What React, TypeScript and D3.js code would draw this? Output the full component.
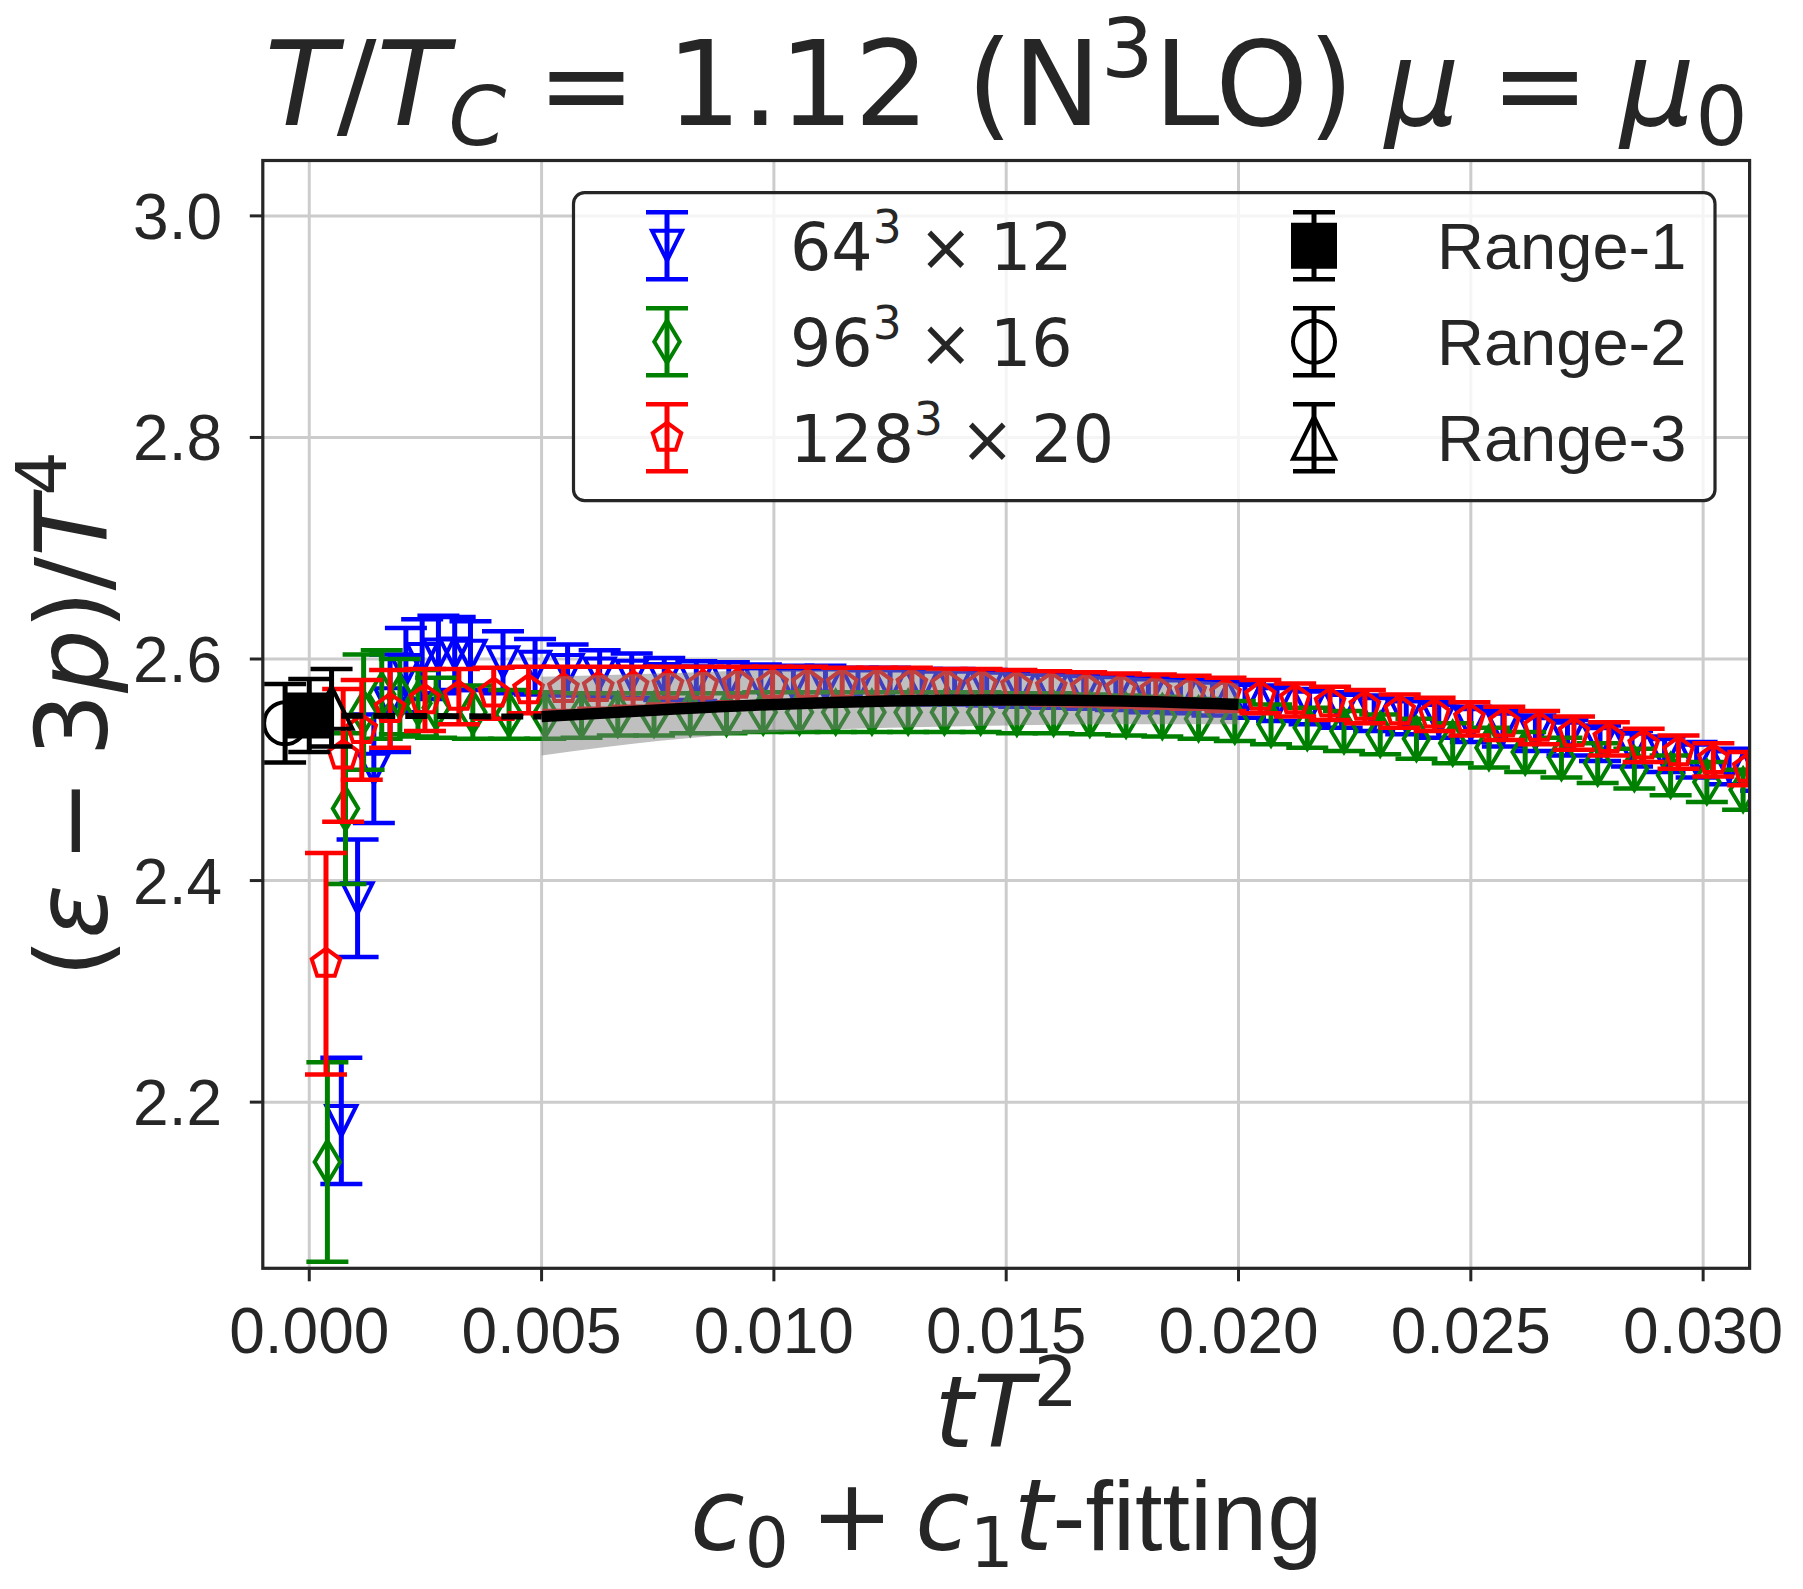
import React from 'react';
import * as d3 from 'd3';

const W = 1803, H = 1589;
const AX = { left: 262.8, right: 1749.6, top: 160.5, bottom: 1268.3 };
const xDomain: [number, number] = [-0.001, 0.031];
const yDomain: [number, number] = [2.05, 3.05];
const xTicks = [0, 0.005, 0.01, 0.015, 0.02, 0.025, 0.03];
const xTickLabels = ['0.000', '0.005', '0.010', '0.015', '0.020', '0.025', '0.030'];
const yTicks = [2.2, 2.4, 2.6, 2.8, 3.0];
const yTickLabels = ['2.2', '2.4', '2.6', '2.8', '3.0'];

// 64^3 x 12
const blueX = [0.00069, 0.00104, 0.00139, 0.00174, 0.00208, 0.00243, 0.00278, 0.00313, 0.00347, 0.00417, 0.00486, 0.00556, 0.00625, 0.00694, 0.00764, 0.00833, 0.00903, 0.00972, 0.01042, 0.01111, 0.01181, 0.0125, 0.01319, 0.01389, 0.01458, 0.01528, 0.01597, 0.01667, 0.01736, 0.01806, 0.01875, 0.01944, 0.02014, 0.02083, 0.02153, 0.02222, 0.02292, 0.02361, 0.02431, 0.025, 0.02569, 0.02639, 0.02708, 0.02778, 0.02847, 0.02917, 0.02986, 0.03056, 0.03125];
const blueY = [2.183, 2.384, 2.501, 2.56, 2.59, 2.6, 2.604, 2.605, 2.603, 2.597, 2.593, 2.59, 2.587, 2.585, 2.582, 2.58, 2.579, 2.578, 2.577, 2.577, 2.576, 2.576, 2.575, 2.575, 2.574, 2.573, 2.572, 2.571, 2.57, 2.568, 2.567, 2.565, 2.563, 2.56, 2.557, 2.554, 2.551, 2.548, 2.545, 2.541, 2.537, 2.533, 2.529, 2.524, 2.519, 2.514, 2.509, 2.503, 2.497];
const blueErr = [0.057, 0.053, 0.049, 0.044, 0.038, 0.036, 0.035, 0.033, 0.031, 0.028, 0.025, 0.023, 0.021, 0.02, 0.019, 0.018, 0.018, 0.017, 0.017, 0.017, 0.016, 0.016, 0.016, 0.016, 0.016, 0.016, 0.016, 0.016, 0.016, 0.016, 0.016, 0.016, 0.016, 0.016, 0.016, 0.016, 0.016, 0.016, 0.016, 0.016, 0.016, 0.016, 0.016, 0.016, 0.016, 0.016, 0.016, 0.016, 0.016];

// 96^3 x 16
const greenX = [0.00039, 0.00078, 0.00117, 0.00156, 0.00195, 0.00234, 0.00273, 0.00352, 0.0043, 0.00508, 0.00586, 0.00664, 0.00742, 0.0082, 0.00898, 0.00977, 0.01055, 0.01133, 0.01211, 0.01289, 0.01367, 0.01445, 0.01523, 0.01602, 0.0168, 0.01758, 0.01836, 0.01914, 0.01992, 0.0207, 0.02148, 0.02227, 0.02305, 0.02383, 0.02461, 0.02539, 0.02617, 0.02695, 0.02773, 0.02852, 0.0293, 0.03008, 0.03086];
const greenY = [2.146, 2.465, 2.552, 2.568, 2.566, 2.56, 2.556, 2.552, 2.55, 2.549, 2.549, 2.55, 2.55, 2.551, 2.551, 2.552, 2.552, 2.552, 2.552, 2.552, 2.552, 2.552, 2.551, 2.551, 2.55, 2.549, 2.548, 2.546, 2.544, 2.541, 2.538, 2.535, 2.532, 2.528, 2.524, 2.52, 2.516, 2.511, 2.506, 2.501, 2.495, 2.489, 2.482];
const greenErr = [0.09, 0.068, 0.052, 0.04, 0.034, 0.03, 0.027, 0.024, 0.022, 0.021, 0.02, 0.019, 0.019, 0.018, 0.018, 0.018, 0.018, 0.018, 0.018, 0.018, 0.018, 0.018, 0.018, 0.018, 0.018, 0.018, 0.018, 0.018, 0.018, 0.018, 0.018, 0.018, 0.018, 0.018, 0.018, 0.018, 0.018, 0.018, 0.018, 0.018, 0.018, 0.018, 0.018];

// 128^3 x 20
const redX = [0.00036, 0.00073, 0.00113, 0.00174, 0.00249, 0.00322, 0.00397, 0.00472, 0.00547, 0.00622, 0.00697, 0.00772, 0.00847, 0.00922, 0.00997, 0.01072, 0.01147, 0.01222, 0.01297, 0.01372, 0.01447, 0.01522, 0.01597, 0.01672, 0.01747, 0.01822, 0.01897, 0.01972, 0.02047, 0.02122, 0.02197, 0.02272, 0.02347, 0.02422, 0.02497, 0.02572, 0.02647, 0.02722, 0.02797, 0.02872, 0.02947, 0.03022, 0.03097];
const redY = [2.325, 2.513, 2.536, 2.555, 2.563, 2.566, 2.569, 2.572, 2.573, 2.574, 2.575, 2.576, 2.576, 2.577, 2.577, 2.577, 2.577, 2.577, 2.577, 2.576, 2.576, 2.575, 2.574, 2.573, 2.572, 2.571, 2.57, 2.568, 2.566, 2.563, 2.56, 2.557, 2.553, 2.55, 2.546, 2.542, 2.538, 2.533, 2.528, 2.522, 2.516, 2.509, 2.501];
const redErr = [0.1, 0.06, 0.045, 0.035, 0.028, 0.025, 0.023, 0.021, 0.02, 0.019, 0.018, 0.017, 0.017, 0.016, 0.016, 0.016, 0.015, 0.015, 0.015, 0.015, 0.015, 0.015, 0.015, 0.015, 0.015, 0.015, 0.015, 0.015, 0.015, 0.015, 0.015, 0.015, 0.015, 0.015, 0.015, 0.015, 0.015, 0.015, 0.015, 0.015, 0.015, 0.015, 0.015];

// continuum-extrapolated values (Range-1, Range-2, Range-3)
const rangeLabels = ['Range-1', 'Range-2', 'Range-3'];
const rangeX = [0.0, -0.00052, 0.00048];
const rangeY = [2.549, 2.542, 2.556];
const rangeErr = [0.033, 0.0355, 0.035];

// fit curve and band
const fitX = [0.005, 0.0075, 0.01, 0.0125, 0.015, 0.0175, 0.02];
const fitY = [2.548, 2.554, 2.559, 2.562, 2.563, 2.562, 2.559];
const fitLo = [2.513, 2.526, 2.534, 2.538, 2.54, 2.541, 2.541];
const fitHi = [2.584, 2.587, 2.59, 2.59, 2.588, 2.584, 2.578];
const dashX = [0.0, 0.005];
const dashY = [2.549, 2.548];

const TXT = '#262626';
const MS = 30;
const RMS = 42;
const ELW = 5;
const CLW = 4.5;
const MLW = 4;
const CAP = 21;

type Seg = { t: string; it?: boolean; sup?: boolean; sub?: boolean; font?: string; dx?: number };

function MathText(p: { x: number; y: number; fs: number; segs: Seg[]; anchor?: string; family?: string; transform?: string }) {
  const fs = p.fs;
  let cur = 0;
  const kids = p.segs.map((s, i) => {
    const target = s.sup ? -0.41 * fs : s.sub ? 0.17 * fs : 0;
    const dy = target - cur;
    cur = target;
    return (
      <tspan key={i} dy={dy} dx={s.dx ? s.dx * fs : undefined} fontStyle={s.it ? 'italic' : 'normal'} fontSize={s.sup || s.sub ? fs * 0.7 : fs} fontFamily={s.font}>
        {s.t}
      </tspan>
    );
  });
  return (
    <text x={p.x} y={p.y} textAnchor={(p.anchor as any) || 'middle'} fontFamily={p.family || 'DejaVu Sans'} fontSize={fs} fill={TXT} style={{ whiteSpace: 'pre' }} transform={p.transform}>
      {kids}
    </text>
  );
}

function markerPath(kind: string, s: number): string {
  const h = s / 2;
  if (kind === 'v') return `M0,${h}L${-h},${-h}L${h},${-h}Z`;
  if (kind === '^') return `M0,${-h}L${-h},${h}L${h},${h}Z`;
  if (kind === 'd') {
    const hw = 0.4243 * s, hh = 0.7071 * s;
    return `M0,${-hh}L${hw},0L0,${hh}L${-hw},0Z`;
  }
  if (kind === 'p') {
    const pts = d3.range(5).map((k) => {
      const a = (-90 + k * 72) * Math.PI / 180;
      return [h * Math.cos(a), h * Math.sin(a)];
    });
    return 'M' + pts.map((q) => q[0].toFixed(2) + ',' + q[1].toFixed(2)).join('L') + 'Z';
  }
  if (kind === 's') return `M${-h},${-h}L${h},${-h}L${h},${h}L${-h},${h}Z`;
  if (kind === 'o') return `M${h},0A${h},${h} 0 1,1 ${-h},0A${h},${h} 0 1,1 ${h},0Z`;
  return '';
}

function ErrPoint(p: { cx: number; cy: number; top: number; bot: number; color: string; kind: string; size: number; filled?: boolean }) {
  return (
    <g>
      <line x1={p.cx} x2={p.cx} y1={p.top} y2={p.bot} stroke={p.color} strokeWidth={ELW} />
      <line x1={p.cx - CAP} x2={p.cx + CAP} y1={p.top} y2={p.top} stroke={p.color} strokeWidth={CLW} />
      <line x1={p.cx - CAP} x2={p.cx + CAP} y1={p.bot} y2={p.bot} stroke={p.color} strokeWidth={CLW} />
      <path d={markerPath(p.kind, p.size)} transform={`translate(${p.cx},${p.cy})`} fill={p.filled ? p.color : 'none'} stroke={p.color} strokeWidth={MLW} strokeLinejoin="miter" />
    </g>
  );
}

export default function App() {
  const x = d3.scaleLinear().domain(xDomain).range([AX.left, AX.right]);
  const y = d3.scaleLinear().domain(yDomain).range([AX.bottom, AX.top]);

  const series = [
    { xs: blueX, ys: blueY, es: blueErr, color: 'blue', kind: 'v', label: ['64', '3', '×', '12'] },
    { xs: greenX, ys: greenY, es: greenErr, color: 'green', kind: 'd', label: ['96', '3', '×', '16'] },
    { xs: redX, ys: redY, es: redErr, color: 'red', kind: 'p', label: ['128', '3', '×', '20'] },
  ];
  const rangeKinds = ['s', 'o', '^'];

  const area = d3.area<number>().x((_, i) => x(fitX[i])).y0((_, i) => y(fitLo[i])).y1((_, i) => y(fitHi[i])).curve(d3.curveMonotoneX);
  const line = d3.line<number>().x((_, i) => x(fitX[i])).y((d) => y(d)).curve(d3.curveMonotoneX);
  const dline = d3.line<number>().x((_, i) => x(dashX[i])).y((d) => y(d));

  const legRows = [245.7, 341.7, 437.7];
  const cx = (AX.left + AX.right) / 2;

  return (
    <svg width={W} height={H} style={{ position: 'absolute', left: 0, top: 0, background: '#fff' }}>
      <defs>
        <clipPath id="plotclip">
          <rect x={AX.left} y={AX.top} width={AX.right - AX.left} height={AX.bottom - AX.top} />
        </clipPath>
      </defs>
      <rect x={0} y={0} width={W} height={H} fill="#fff" />
      {xTicks.map((t, i) => (
        <line key={'gx' + i} x1={x(t)} x2={x(t)} y1={AX.top} y2={AX.bottom} stroke="#cccccc" strokeWidth={3} />
      ))}
      {yTicks.map((t, i) => (
        <line key={'gy' + i} x1={AX.left} x2={AX.right} y1={y(t)} y2={y(t)} stroke="#cccccc" strokeWidth={3} />
      ))}
      <g clipPath="url(#plotclip)">
        {series.map((s, si) => (
          <g key={'s' + si}>
            {s.xs.map((xv, i) => (
              <ErrPoint key={i} cx={x(xv)} cy={y(s.ys[i])} top={y(s.ys[i] + s.es[i])} bot={y(s.ys[i] - s.es[i])} color={s.color} kind={s.kind} size={MS} />
            ))}
          </g>
        ))}
        {rangeX.map((xv, i) => (
          <ErrPoint key={'r' + i} cx={x(xv)} cy={y(rangeY[i])} top={y(rangeY[i] + rangeErr[i])} bot={y(rangeY[i] - rangeErr[i])} color="black" kind={rangeKinds[i]} size={RMS} filled={i === 0} />
        ))}
        <path d={area(fitX) || ''} fill="#808080" fillOpacity={0.5} stroke="none" />
        <path d={line(fitY) || ''} fill="none" stroke="black" strokeWidth={11.5} />
        <path d={dline(dashY) || ''} fill="none" stroke="black" strokeWidth={6} strokeDasharray="22,10" />
      </g>
      <rect x={AX.left} y={AX.top} width={AX.right - AX.left} height={AX.bottom - AX.top} fill="none" stroke={TXT} strokeWidth={3.2} />
      {xTicks.map((t, i) => (
        <g key={'tx' + i}>
          <line x1={x(t)} x2={x(t)} y1={AX.bottom} y2={AX.bottom + 13} stroke={TXT} strokeWidth={3} />
          <text x={x(t)} y={1353} textAnchor="middle" fontFamily="Liberation Sans, Arial" fontSize={64} fill={TXT}>{xTickLabels[i]}</text>
        </g>
      ))}
      {yTicks.map((t, i) => (
        <g key={'ty' + i}>
          <line x1={AX.left - 13} x2={AX.left} y1={y(t)} y2={y(t)} stroke={TXT} strokeWidth={3} />
          <text x={222} y={y(t) + 23} textAnchor="end" fontFamily="Liberation Sans, Arial" fontSize={64} fill={TXT}>{yTickLabels[i]}</text>
        </g>
      ))}
      <rect x={573.5} y={192.7} width={1715 - 573.5} height={500.7 - 192.7} rx={11} ry={11} fill="#fff" fillOpacity={0.8} stroke={TXT} strokeWidth={3.2} />
      {series.map((s, i) => (
        <g key={'l' + i}>
          <ErrPoint cx={667} cy={legRows[i]} top={legRows[i] - 33.5} bot={legRows[i] + 33.5} color={s.color} kind={s.kind} size={MS} />
          <MathText x={790} y={legRows[i] + 24} fs={65} anchor="start" segs={[{ t: s.label[0] }, { t: s.label[1], sup: true }, { t: s.label[2], dx: 0.26 }, { t: s.label[3], dx: 0.26 }]} />
        </g>
      ))}
      {rangeLabels.map((lab, i) => (
        <g key={'lr' + i}>
          <ErrPoint cx={1314} cy={legRows[i]} top={legRows[i] - 33.5} bot={legRows[i] + 33.5} color="black" kind={rangeKinds[i]} size={RMS} filled={i === 0} />
          <text x={1437} y={legRows[i] + 23.5} fontFamily="Liberation Sans, Arial" fontSize={65} fill={TXT}>{lab}</text>
        </g>
      ))}
      <MathText x={cx} y={125} fs={118} segs={[
        { t: 'T', it: true }, { t: '/' }, { t: 'T', it: true }, { t: 'C', it: true, sub: true },
        { t: '=', dx: 0.26 }, { t: '1.12 (N', dx: 0.26 }, { t: '3', sup: true }, { t: 'LO)' }, { t: 'μ', it: true, dx: 0.26 }, { t: '=', dx: 0.26 }, { t: 'μ', it: true, dx: 0.26 }, { t: '0', sub: true },
      ]} />
      <MathText x={cx} y={1447} fs={99} segs={[{ t: 't', it: true }, { t: 'T', it: true }, { t: '2', sup: true }]} />
      <MathText x={cx} y={1550} fs={99} segs={[
        { t: 'c', it: true }, { t: '0', sub: true }, { t: '+', dx: 0.22 }, { t: 'c', it: true, dx: 0.22 }, { t: '1', sub: true }, { t: 't', it: true }, { t: '-fitting', font: 'Liberation Sans, Arial' },
      ]} />
      <MathText x={0} y={0} fs={100} transform={`translate(107,${(AX.top + AX.bottom) / 2}) rotate(-90)`} segs={[
        { t: '(' }, { t: 'ε', it: true }, { t: '−', dx: 0.22 }, { t: '3', dx: 0.22 }, { t: 'p', it: true }, { t: ')/' }, { t: 'T', it: true }, { t: '4', sup: true },
      ]} />
    </svg>
  );
}
